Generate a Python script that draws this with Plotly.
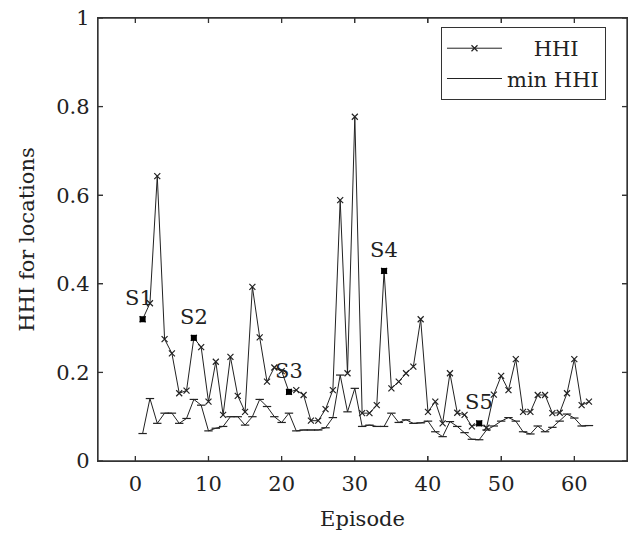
import plotly.graph_objects as go

episodes = list(range(1, 63))
hhi = [0.32, 0.356, 0.643, 0.275, 0.243, 0.153, 0.159, 0.278, 0.257, 0.134,
       0.224, 0.104, 0.235, 0.147, 0.111, 0.393, 0.279, 0.179, 0.211, 0.203,
       0.156, 0.16, 0.149, 0.091, 0.091, 0.117, 0.16, 0.589, 0.198, 0.777,
       0.108, 0.108, 0.126, 0.429, 0.164, 0.179, 0.198, 0.213, 0.32, 0.111,
       0.134, 0.085, 0.198, 0.109, 0.104, 0.078, 0.085, 0.075, 0.15, 0.192,
       0.16, 0.23, 0.111, 0.111, 0.149, 0.149, 0.108, 0.109, 0.153, 0.23,
       0.126, 0.134]
min_hhi = [0.062, 0.141, 0.085, 0.108, 0.108, 0.085, 0.096, 0.139, 0.126, 0.068,
           0.074, 0.078, 0.1, 0.1, 0.081, 0.1, 0.139, 0.123, 0.1, 0.087,
           0.108, 0.068, 0.07, 0.07, 0.07, 0.075, 0.098, 0.194, 0.111, 0.164,
           0.078, 0.081, 0.078, 0.078, 0.108, 0.087, 0.093, 0.085, 0.086, 0.09,
           0.066, 0.055, 0.089, 0.078, 0.064, 0.049, 0.048, 0.07, 0.079, 0.09,
           0.098, 0.09, 0.066, 0.061, 0.079, 0.066, 0.076, 0.09, 0.106, 0.097,
           0.079, 0.08]
x_ticks = [0, 10, 20, 30, 40, 50, 60]
y_ticks = [0, 0.2, 0.4, 0.6, 0.8, 1]
y_tick_labels = ["0", "0.2", "0.4", "0.6", "0.8", "1"]
stage_labels = ["S1", "S2", "S3", "S4", "S5"]
stage_episodes = [1, 8, 21, 34, 47]
stage_values = [hhi[episodes.index(e)] for e in stage_episodes]

FONT = "DejaVu Serif"
ink = "#222222"
axc = "#333333"
FS = 21
NB = "\u00a0"
xr = [-5.1, 67.2]
yr = [0, 1]
W, H = 636, 533
ML, MR, MT, MB = 98, 9, 18, 72
TICK_PX = 5
tx = TICK_PX * (xr[1] - xr[0]) / (W - ML - MR)
ty = TICK_PX * (yr[1] - yr[0]) / (H - MT - MB)

fig = go.Figure()

# plot frame and inward ticks on all four sides (drawn from the axis ranges and tick values)
fx = [xr[0], xr[1], xr[1], xr[0], xr[0]]
fy = [yr[0], yr[0], yr[1], yr[1], yr[0]]
kx, ky = [], []
for t in x_ticks:
    kx += [t, t, None, t, t, None]
    ky += [yr[0], yr[0] + ty, None, yr[1], yr[1] - ty, None]
for t in y_ticks:
    kx += [xr[0], xr[0] + tx, None, xr[1], xr[1] - tx, None]
    ky += [t, t, None, t, t, None]
fig.add_trace(go.Scatter(x=fx + [None] + kx, y=fy + [None] + ky, mode="lines",
                         line=dict(color=axc, width=1.3), showlegend=False,
                         hoverinfo="skip", cliponaxis=False))

fig.add_trace(go.Scatter(
    x=episodes, y=hhi, name=NB * 4 + "HHI", mode="lines+markers",
    line=dict(color=ink, width=1),
    marker=dict(symbol="x-thin", size=6, line=dict(color=ink, width=1.2), color=ink),
))
fig.add_trace(go.Scatter(
    x=episodes, y=min_hhi, name="min HHI", mode="lines+markers",
    line=dict(color=ink, width=1),
    marker=dict(symbol="line-ew", size=6, line=dict(color=ink, width=1.2), color=ink),
))
fig.add_trace(go.Scatter(
    x=stage_episodes, y=stage_values, mode="markers", showlegend=False,
    marker=dict(symbol="square", size=6, color="black"),
))
for lab, e, v in zip(stage_labels, stage_episodes, stage_values):
    fig.add_annotation(x=e, y=v, text=lab, showarrow=False, yshift=21,
                       xshift=-4 if lab == "S1" else 0,
                       font=dict(family=FONT, size=FS, color=ink))

axis_common = dict(showline=True, linecolor=axc, linewidth=1.3, mirror="ticks",
                   ticks="inside", ticklen=TICK_PX, tickcolor=axc, tickwidth=1.2,
                   showgrid=False, zeroline=False, automargin=False,
                   tickfont=dict(family=FONT, size=FS, color=ink))
fig.update_layout(
    xaxis=dict(range=xr, tickvals=x_ticks, ticklabelstandoff=4,
               title=dict(text="Episode", font=dict(family=FONT, size=FS, color=ink)),
               **axis_common),
    yaxis=dict(range=yr, tickvals=y_ticks, ticktext=y_tick_labels, ticklabelstandoff=3,
               title=dict(text="HHI for locations", font=dict(family=FONT, size=FS, color=ink)),
               **axis_common),
    width=W, height=H,
    margin=dict(l=ML, r=MR, t=MT, b=MB),
    paper_bgcolor="white", plot_bgcolor="white",
    legend=dict(x=0.648, y=0.98, xanchor="left", yanchor="top",
                bgcolor="white", bordercolor=axc, borderwidth=1.2, itemwidth=55,
                font=dict(family=FONT, size=FS, color=ink)),
)
post = "document.body.style.margin='0';document.body.style.overflow='hidden';"
fig.write_html("out.html", config={"displayModeBar": False}, post_script=post)
